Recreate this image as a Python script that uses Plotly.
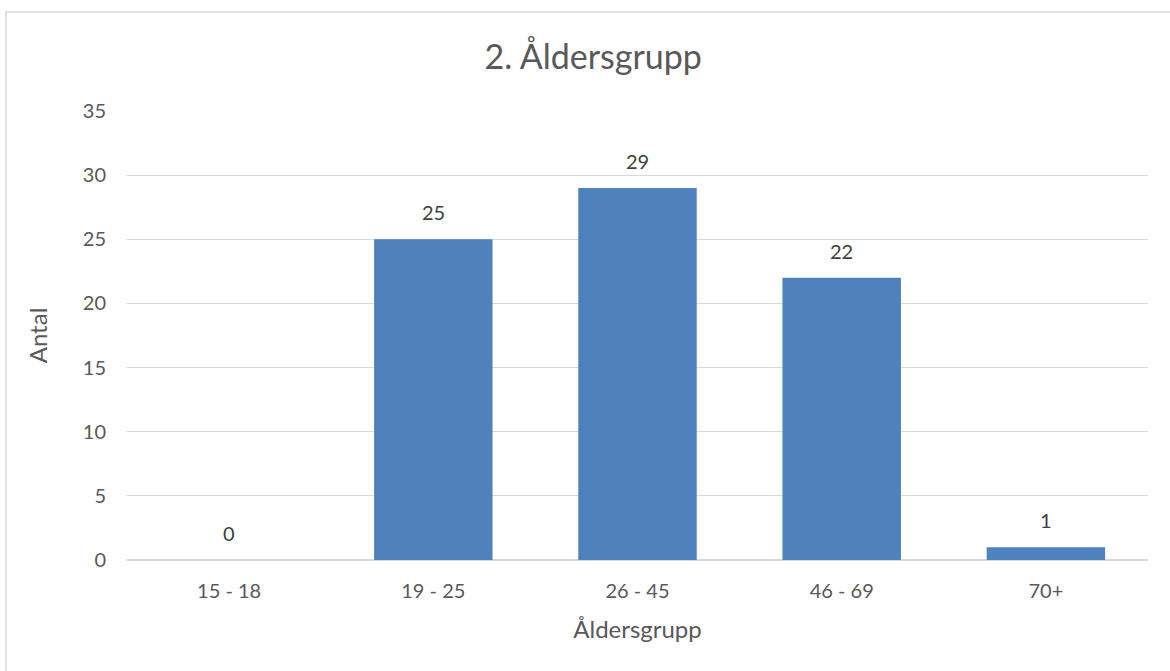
import plotly.graph_objects as go

categories = ["15 - 18", "19 - 25", "26 - 45", "46 - 69", "70+"]
values = [0, 25, 29, 22, 1]
y_ticks = [0, 5, 10, 15, 20, 25, 30, 35]

FONT = "Lato, 'Open Sans', sans-serif"
TXT = "#595959"

fig = go.Figure()
fig.add_trace(go.Bar(
    x=categories, y=values,
    marker=dict(color="#4F81BD", line=dict(width=0)),
    hoverinfo="x+y",
))

for c, v in zip(categories, values):
    fig.add_annotation(x=c, y=v, text=str(v), showarrow=False,
                       yshift=27, font=dict(family=FONT, size=20, color="#404040"))

W, H = 1170, 671
L, R, T, B = 127, 22, 111, 111
pw, ph = W - L - R, H - T - B
fig.add_shape(type="rect", xref="paper", yref="paper",
              x0=(6 - L) / pw, x1=(1180 - L) / pw,
              y0=(H - B - 690) / ph, y1=(H - B - 12) / ph,
              line=dict(color="#D9D9D9", width=1.5), fillcolor="rgba(0,0,0,0)",
              layer="below")

fig.update_layout(
    width=W, height=H,
    margin=dict(l=L, r=R, t=T, b=B),
    paper_bgcolor="white", plot_bgcolor="white",
    bargap=0.42,
    showlegend=False,
    font=dict(family=FONT, color=TXT, size=20),
    title=dict(text="2. Åldersgrupp", x=0.507, xanchor="center", y=1 - 57 / H, yanchor="middle",
               font=dict(family=FONT, size=34, color=TXT)),
    xaxis=dict(
        showgrid=False, showline=False, ticks="", zeroline=False,
        ticklabelstandoff=17,
        tickfont=dict(family=FONT, size=20, color=TXT),
        title=dict(text="Åldersgrupp", standoff=20, font=dict(family=FONT, size=24, color=TXT)),
    ),
    yaxis=dict(
        range=[0, 35], tickvals=y_ticks, showgrid=True, gridcolor="#D9D9D9", gridwidth=1,
        zeroline=True, zerolinecolor="#D9D9D9", zerolinewidth=1.5,
        showline=False, ticks="", ticklabelstandoff=20,
        tickfont=dict(family=FONT, size=20, color=TXT),
        title=dict(text="Antal", standoff=28, font=dict(family=FONT, size=24, color=TXT)),
    ),
)

fig.write_html("out.html")
